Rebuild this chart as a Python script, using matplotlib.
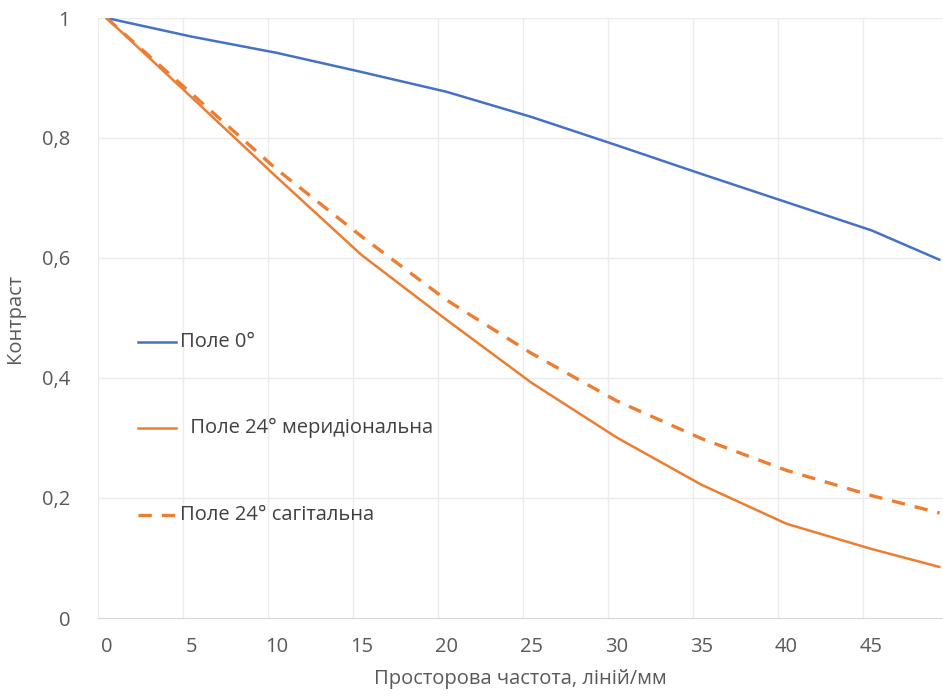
import matplotlib
matplotlib.use("Agg")
import matplotlib.pyplot as plt

plt.rcParams["font.family"] = ["Open Sans", "DejaVu Sans"]

# Spatial frequency (lines/mm) and contrast
freq = [0, 5, 10, 15, 20, 25, 30, 35, 40, 45, 49]
field0 = [1.0, 0.969, 0.942, 0.910, 0.877, 0.835, 0.788, 0.740, 0.693, 0.646, 0.597]
field24_mer = [1.0, 0.868, 0.735, 0.605, 0.497, 0.392, 0.301, 0.222, 0.157, 0.115, 0.085]
field24_sag = [1.0, 0.874, 0.748, 0.636, 0.530, 0.441, 0.362, 0.299, 0.246, 0.204, 0.175]

x_ticks = [0, 5, 10, 15, 20, 25, 30, 35, 40, 45]
y_ticks = [0, 0.2, 0.4, 0.6, 0.8, 1.0]
y_ticklabels = ["0", "0,2", "0,4", "0,6", "0,8", "1"]

labels = ["Поле 0°", " Поле 24° меридіональна", "Поле 24° сагітальна"]

BLUE = "#4472C4"
ORANGE = "#ED7D31"
TXT = "#595959"
FS = 14.5

fig = plt.figure(figsize=(9.43, 6.99), dpi=100)
ax = fig.add_axes([98 / 943, 1 - 618 / 699, 1 - 98 / 943, 600 / 699])

ax.plot(freq, field0, color=BLUE, lw=1.8, solid_capstyle="round")
ax.plot(freq, field24_mer, color=ORANGE, lw=1.8, solid_capstyle="round")
ax.plot(freq, field24_sag, color=ORANGE, lw=2.4, dashes=(4, 3))

# hand placed legend, as in the source chart
leg_y = [0.4605, 0.316, 0.172]
leg_text_x = [4.32, 4.62, 4.32]
styles = [dict(color=BLUE, lw=1.8), dict(color=ORANGE, lw=1.8),
          dict(color=ORANGE, lw=2.4, dashes=(4, 3))]
for y, tx, lbl, st in zip(leg_y, leg_text_x, labels, styles):
    ax.plot([1.85, 4.1], [y, y], **st)
    ax.text(tx, y, lbl, ha="left", va="center", fontsize=FS, color="#404040")

ax.set_xlim(-0.5, 49.2)
ax.set_ylim(0, 1)
ax.set_xticks(x_ticks)
ax.set_yticks(y_ticks)
ax.set_yticklabels(y_ticklabels)
ax.tick_params(axis="both", length=0, labelsize=FS, labelcolor=TXT)
ax.tick_params(axis="x", pad=14)
ax.tick_params(axis="y", pad=20)

# gridlines sit between categories like an Excel line chart
for gx in [v - 0.5 for v in x_ticks]:
    ax.axvline(gx, color="#ebebeb", lw=1, zorder=0)
for gy in y_ticks[1:]:
    ax.axhline(gy, color="#ebebeb", lw=1, zorder=0)
for s in ["top", "right", "left"]:
    ax.spines[s].set_visible(False)
ax.spines["bottom"].set_color("#d9d9d9")

ax.set_xlabel("Просторова частота, ліній/мм", fontsize=FS, color=TXT, labelpad=8)
ax.set_ylabel("Контраст", fontsize=FS, color=TXT, labelpad=12)

fig.savefig("out.png", dpi=100)
